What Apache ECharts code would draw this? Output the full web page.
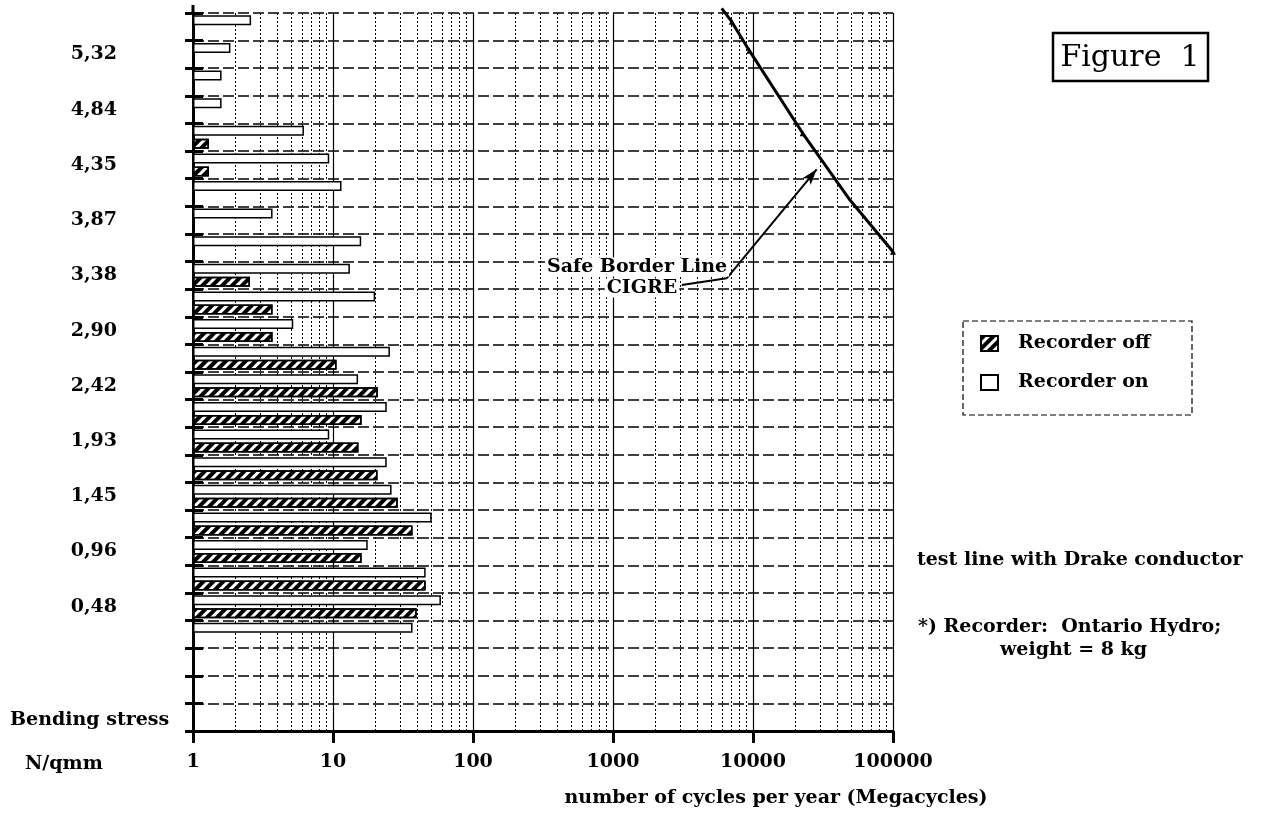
<!DOCTYPE html>
<html lang="en">
<head>
<meta charset="UTF-8">
<title>Figure 1 - Bending stress distribution</title>
<script src="https://cdn.jsdelivr.net/npm/echarts@6/dist/echarts.min.js"></script>
<style>
  html, body { margin: 0; padding: 0; background: #fff; }
  #chart { width: 1261px; height: 823px; }
</style>
</head>
<body>
<div id="chart"></div>
<script>
// stress classes, top to bottom (one label on every second class)
var stressLabels = ['', '5,32', '', '4,84', '', '4,35', '', '3,87', '', '3,38', '', '2,90', '', '2,42',
    '', '1,93', '', '1,45', '', '0,96', '', '0,48', '', '', '', ''];

// megacycles per year
var recorderOn = [2.6, 1.85, 1.6, 1.6, 6.2, 9.4, 11.5, 3.7, 15.9, 13.2, 20, 5.2, 25.5, 15.1,
    24.2, 9.4, 24.2, 26.2, 50.7, 17.7, 45.9, 59, 37, '-', '-', '-'];
var recorderOff = ['-', '-', '-', '-', 1.3, 1.3, '-', '-', '-', 2.55, 3.7, 3.7, 10.6, 20.9,
    16, 15.2, 20.8, 29, 37, 16, 45.9, 39.6, '-', '-', '-', '-'];

// CIGRE safe border line (cycles, stress N/qmm)
var cigreCycles = [5975, 7050, 9420, 22650, 49300, 100000];
var cigreStress = [5.724, 5.607, 5.353, 4.629, 4.044, 3.591];
var cigreMarked = [false, true, true, true, false, true];

// arrow from the label to the line
var arrowCycles = [3100, 6490, 28500];
var arrowStress = [3.299, 3.358, 4.313];

var minorCycles = [2, 3, 4, 5, 6, 7, 8, 9, 20, 30, 40, 50, 60, 70, 80, 90,
    200, 300, 400, 500, 600, 700, 800, 900, 2000, 3000, 4000, 5000, 6000, 7000, 8000, 9000,
    20000, 30000, 40000, 50000, 60000, 70000, 80000, 90000];

// stress range covered by the plot height
var stressTop = 5.683;
var stressBottom = -0.609;

var FONT = '"DejaVu Serif", "Liberation Serif", serif';

var chart = echarts.init(document.getElementById('chart'));

var lineData = cigreCycles.map(function (c, i) {
    return {
        value: [c, cigreStress[i]],
        symbol: cigreMarked[i] ? 'triangle' : 'none'
    };
});

var markData = minorCycles.map(function (v) {
    return { xAxis: v, lineStyle: { type: [2, 2], width: 1, color: '#000' } };
});
markData.push([
    { coord: [arrowCycles[0], arrowStress[0]], symbol: 'none', lineStyle: { type: 'solid', width: 2, color: '#000' } },
    { coord: [arrowCycles[1], arrowStress[1]], symbol: 'none' }
]);
markData.push([
    { coord: [arrowCycles[1], arrowStress[1]], symbol: 'none', lineStyle: { type: 'solid', width: 2, color: '#000' } },
    { coord: [arrowCycles[2], arrowStress[2]], symbol: 'arrow', symbolSize: [8, 16] }
]);

var hatch = {
    symbol: 'rect',
    symbolSize: 1,
    dashArrayX: [1, 0],
    dashArrayY: [3.5, 2.2],
    rotation: -Math.PI / 4,
    color: '#000'
};

chart.setOption({
    animation: false,
    backgroundColor: '#fff',
    grid: { left: 193, top: 13, width: 700, height: 718, containLabel: false },
    legend: {
        data: ['Recorder off', 'Recorder on'],
        orient: 'vertical',
        left: 980,
        top: 334,
        icon: 'rect',
        itemWidth: 17,
        itemHeight: 15,
        itemGap: 20,
        padding: 0,
        selectedMode: false,
        textStyle: { fontFamily: FONT, fontWeight: 'bold', fontSize: 19, color: '#000', padding: [0, 0, 0, 15] }
    },
    xAxis: {
        type: 'log',
        logBase: 10,
        min: 1,
        max: 100000,
        axisLine: { onZero: false, lineStyle: { color: '#000', width: 3 } },
        axisTick: { length: 12, lineStyle: { color: '#000', width: 3 } },
        axisLabel: {
            margin: 22,
            color: '#000',
            fontFamily: FONT,
            fontWeight: 'bold',
            fontSize: 19,
            formatter: function (v) { return String(Math.round(v)); }
        },
        splitLine: { show: true, lineStyle: { color: '#000', width: 1.2 } }
    },
    yAxis: [
        {
            type: 'category',
            position: 'left',
            inverse: true,
            data: stressLabels,
            axisLine: { lineStyle: { color: '#000', width: 3 } },
            axisTick: { show: true, interval: 0, length: 8, lineStyle: { color: '#000', width: 3 } },
            axisLabel: {
                interval: 0,
                margin: 76,
                color: '#000',
                fontFamily: FONT,
                fontWeight: 'bold',
                fontSize: 19
            },
            splitLine: { show: true, interval: 0, lineStyle: { color: '#000', width: 1.5, type: [11, 4] } }
        },
        {
            type: 'value',
            position: 'left',
            show: false,
            min: stressBottom,
            max: stressTop,
            splitLine: { show: false }
        },
        {
            type: 'category',
            position: 'left',
            inverse: true,
            data: stressLabels,
            axisLine: { show: false },
            axisTick: { show: true, inside: true, interval: 0, length: 10, lineStyle: { color: '#000', width: 3 } },
            axisLabel: { show: false },
            splitLine: { show: false }
        }
    ],
    series: [
        {
            name: 'Recorder on',
            type: 'bar',
            yAxisIndex: 0,
            z: 10,
            barWidth: 10,
            barGap: '30%',
            data: recorderOn,
            itemStyle: { color: '#fff', borderColor: '#000', borderWidth: 1.5 }
        },
        {
            name: 'Recorder off',
            type: 'bar',
            yAxisIndex: 0,
            z: 10,
            barWidth: 10,
            barGap: '30%',
            data: recorderOff,
            itemStyle: { color: '#fff', borderColor: '#000', borderWidth: 1.5, decal: hatch }
        },
        {
            name: 'CIGRE',
            type: 'line',
            yAxisIndex: 1,
            clip: false,
            z: 4,
            data: lineData,
            symbolSize: 6,
            itemStyle: { color: '#000' },
            lineStyle: { color: '#000', width: 3 },
            markLine: {
                silent: true,
                z: 1,
                symbol: ['none', 'none'],
                label: { show: false },
                data: markData
            }
        }
    ],
    graphic: [
        { type: 'line', shape: { x1: 193, y1: 5, x2: 193, y2: 14 }, style: { stroke: '#000', lineWidth: 3 } },
        { type: 'rect', shape: { x: 1053, y: 33, width: 155, height: 48 },
          style: { fill: 'none', stroke: '#000', lineWidth: 2.5 } },
        { type: 'text', style: { x: 1130, y: 58, text: 'Figure  1', align: 'center', verticalAlign: 'middle',
          fontFamily: FONT, fontSize: 30, fill: '#000' } },
        { type: 'rect', shape: { x: 963, y: 321, width: 229, height: 94 },
          style: { fill: 'none', stroke: '#000', lineWidth: 1.2, lineDash: [6, 3] } },
        { type: 'text', z: 20, style: { x: 637, y: 267, text: 'Safe Border Line', align: 'center', verticalAlign: 'middle',
          fontFamily: FONT, fontWeight: 'bold', fontSize: 19, fill: '#000', backgroundColor: '#fff', padding: [0, 2] } },
        { type: 'text', z: 20, style: { x: 642, y: 288, text: 'CIGRE', align: 'center', verticalAlign: 'middle',
          fontFamily: FONT, fontWeight: 'bold', fontSize: 19, fill: '#000', backgroundColor: '#fff', padding: [0, 2] } },
        { type: 'text', style: { x: 10, y: 720, text: 'Bending stress', verticalAlign: 'middle',
          fontFamily: FONT, fontWeight: 'bold', fontSize: 19, fill: '#000' } },
        { type: 'text', style: { x: 25, y: 764, text: 'N/qmm', verticalAlign: 'middle',
          fontFamily: FONT, fontWeight: 'bold', fontSize: 19, fill: '#000' } },
        { type: 'text', style: { x: 776, y: 798, text: 'number of cycles per year (Megacycles)', align: 'center', verticalAlign: 'middle',
          fontFamily: FONT, fontWeight: 'bold', fontSize: 19, fill: '#000' } },
        { type: 'text', style: { x: 917, y: 560, text: 'test line with Drake conductor', verticalAlign: 'middle',
          fontFamily: FONT, fontWeight: 'bold', fontSize: 19, fill: '#000' } },
        { type: 'text', style: { x: 918, y: 627, text: '*) Recorder:  Ontario Hydro;', verticalAlign: 'middle',
          fontFamily: FONT, fontWeight: 'bold', fontSize: 19, fill: '#000' } },
        { type: 'text', style: { x: 1000, y: 650, text: 'weight = 8 kg', verticalAlign: 'middle',
          fontFamily: FONT, fontWeight: 'bold', fontSize: 19, fill: '#000' } }
    ]
});
</script>
</body>
</html>
